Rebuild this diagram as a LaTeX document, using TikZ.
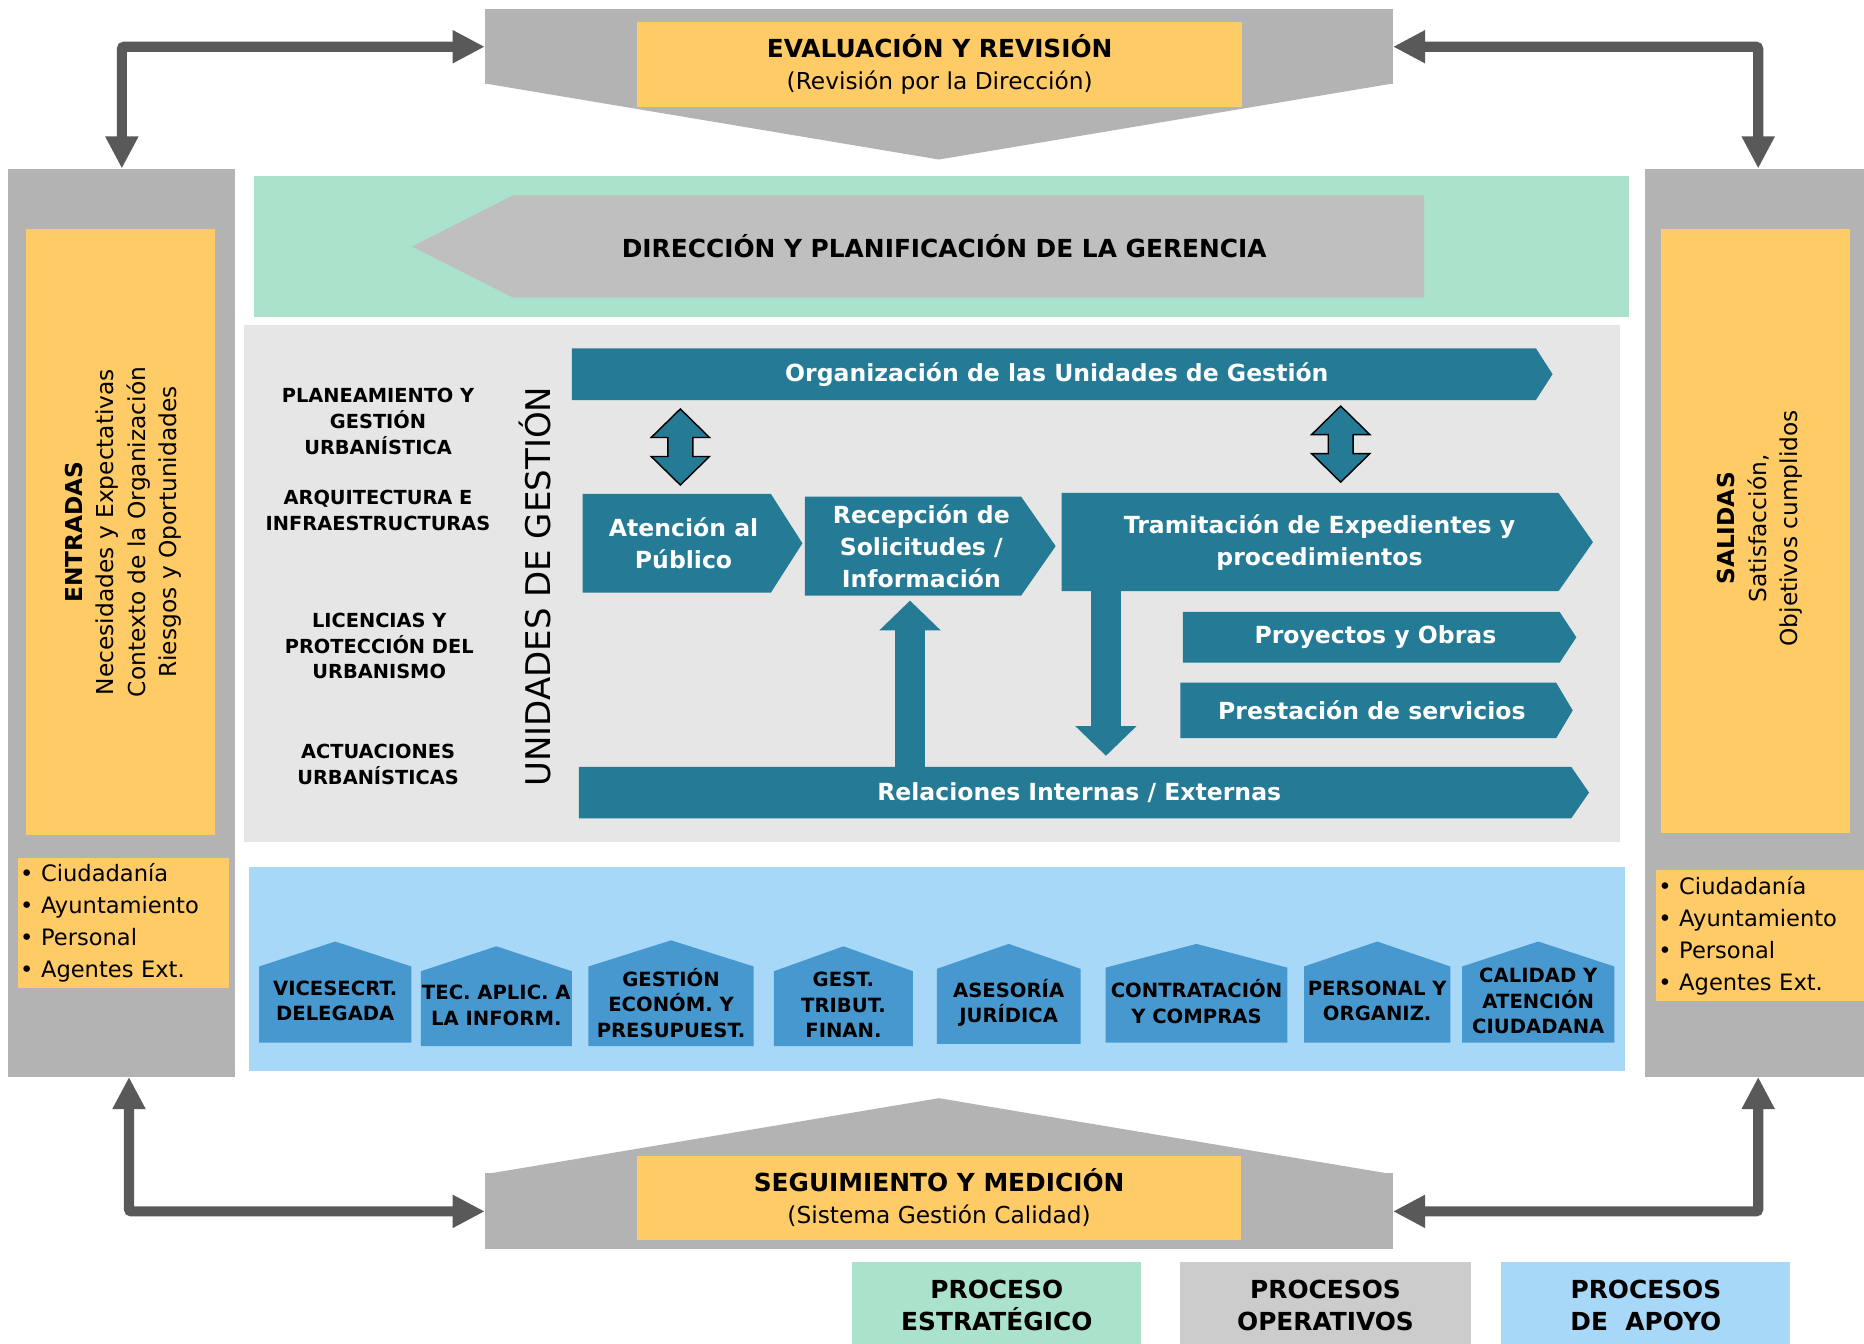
\documentclass[tikz,border=0pt]{standalone}
\usepackage{fontspec}
\setmainfont{DejaVu Sans}
\usetikzlibrary{arrows.meta}
\definecolor{greyd}{HTML}{B3B3B3}
\definecolor{greyl}{HTML}{E6E6E6}
\definecolor{greya}{HTML}{BFBFBF}
\definecolor{greyleg}{HTML}{CCCCCC}
\definecolor{arrowg}{HTML}{595959}
\definecolor{yell}{HTML}{FFCB66}
\definecolor{greenb}{HTML}{ABE2CB}
\definecolor{blueb}{HTML}{A8D8F8}
\definecolor{tealc}{HTML}{257B96}
\definecolor{housec}{HTML}{4898D0}
\newcommand\fTtl{\bfseries\fontsize{20.9}{27}\selectfont}
\newcommand\fArm{\bfseries\fontsize{19.8}{27}\selectfont}
\newcommand\fReg{\fontsize{19.6}{26.5}\selectfont}
\newcommand\fBul{\fontsize{19}{27}\selectfont}
\newcommand\fLbl{\bfseries\fontsize{16.3}{21.5}\selectfont}
\newcommand\fHouse{\bfseries\fontsize{16.5}{21.5}\selectfont}
\newcommand\fBig{\fontsize{28.6}{30}\selectfont}
\newcommand\lft[1]{\hspace*{-#1pt}}
\begin{document}
\begin{tikzpicture}[x=1pt,y=-1pt,
  ybox/.style={fill=yell,inner sep=0pt,align=center},
  gbox/.style={fill=greyd,inner sep=0pt},
  tealarrow/.style={inner sep=0pt,align=center,text=white,font=\fArm,
    path picture={\fill[tealc] (path picture bounding box.north west)
      -- ([xshift=-#1]path picture bounding box.north east)
      -- (path picture bounding box.east)
      -- ([xshift=-#1]path picture bounding box.south east)
      -- (path picture bounding box.south west) -- cycle;}},
  housetxt/.style={inner sep=0pt,align=center,font=\fHouse},
  unitlbl/.style={inner sep=0pt,align=center,font=\fLbl},
  looparrow/.style={draw=arrowg,line width=8.5pt,rounded corners=2pt,<->,>={Triangle[width=26pt,length=27pt]}},
  fatarrow/.style={draw=tealc,line width=25pt,->,>={Triangle[width=50pt,length=25pt]}},
  legend/.style={inner sep=0pt,align=center,font=\fTtl,minimum width=243pt,minimum height=73pt},
  updown/.pic={\draw[black,fill=tealc,line width=1.2pt,line join=miter]
    (0,-32) -- (24.5,-8) -- (10.5,-8) -- (10.5,8) -- (24.5,8) -- (0,32)
    -- (-24.5,8) -- (-10.5,8) -- (-10.5,-8) -- (-24.5,-8) -- cycle;}
]
\useasboundingbox (0,0) rectangle (1568,1130);

\fill[greenb] (213.5,148) rectangle (1370.6,267);
\fill[greyl] (205.3,273.4) rectangle (1362.7,708);
\fill[blueb] (209.5,729) rectangle (1366.8,901);

\node[gbox,minimum width=763.6pt,minimum height=63.4pt] (evalbox) at (789.8,39.3) {};
\fill[greyd] ([yshift=1pt]evalbox.south west) -- ([yshift=-63pt]evalbox.south) -- ([yshift=1pt]evalbox.south east) -- cycle;
\node[ybox,font=\fReg,minimum width=509pt,minimum height=71.5pt] (evaltxt) at (790.5,54.25)
  {{\fTtl EVALUACIÓN Y REVISIÓN}\\(Revisión por la Dirección)};

\node[gbox,minimum width=763.6pt,minimum height=64pt] (segbox) at (789.8,1019) {};
\fill[greyd] ([yshift=-1pt]segbox.north west) -- ([yshift=63pt]segbox.north) -- ([yshift=-1pt]segbox.north east) -- cycle;
\node[ybox,font=\fReg,minimum width=508pt,minimum height=71pt] (segtxt) at (790,1007.5)
  {{\fTtl SEGUIMIENTO Y MEDICIÓN}\\(Sistema Gestión Calidad)};

\node[gbox,minimum width=191pt,minimum height=763.7pt] (colL) at (102.5,523.85) {};
\node[gbox,minimum width=190pt,minimum height=763.7pt] (colR) at (1479,523.85) {};
\node[ybox,minimum width=159pt,minimum height=509pt] (entr) at (101.5,447.5) {};
\node[rotate=90,align=center,font=\fReg,inner sep=0pt] (entrtxt) at ([xshift=2pt]entr.center)
  {{\bfseries ENTRADAS}\\Necesidades y Expectativas\\Contexto de la Organización\\Riesgos y Oportunidades};
\node[ybox,minimum width=159pt,minimum height=508pt] (sal) at (1476.5,446.5) {};
\node[rotate=90,align=center,font=\fReg,inner sep=0pt] (saltxt) at ([xshift=4pt,yshift=2pt]sal.center)
  {{\bfseries SALIDAS}\\Satisfacción,\\Objetivos cumplidos};
\node[ybox,align=left,font=\fBul,text width=174pt,inner xsep=2pt,minimum height=109pt] (bulL) at (104,776.5)
  {• Ciudadanía\\• Ayuntamiento\\• Personal\\• Agentes Ext.};
\node[ybox,align=left,font=\fBul,text width=177pt,inner xsep=2pt,minimum height=110pt] (bulR) at (1483.5,787)
  {• Ciudadanía\\• Ayuntamiento\\• Personal\\• Agentes Ext.};

\draw[looparrow] (colL.north) |- (evalbox.west);
\draw[looparrow] (colR.north) |- (evalbox.east);
\draw[looparrow] ([xshift=6pt]colL.south) |- (segbox.west);
\draw[looparrow] (colR.south) |- (segbox.east);

\node[inner sep=0pt,font=\fTtl,minimum width=851.4pt,minimum height=86.1pt,
  path picture={\fill[greya] (path picture bounding box.west)
    -- ([xshift=85pt]path picture bounding box.north west)
    -- (path picture bounding box.north east)
    -- (path picture bounding box.south east)
    -- ([xshift=85pt]path picture bounding box.south west) -- cycle;}] (dirg) at (772.3,207.35)
  {\hspace*{44pt}DIRECCIÓN Y PLANIFICACIÓN DE LA GERENCIA};

\node[tealarrow=14pt,minimum width=825pt,minimum height=43.5pt] (orgn) at (893.5,314.75) {\lft{9}Organización de las Unidades de Gestión};
\node[tealarrow=26.5pt,minimum width=185pt,minimum height=83pt] (atenc) at (582.5,457) {\lft{15}Atención al\\\lft{15}Público};
\node[tealarrow=29pt,minimum width=211pt,minimum height=83.2pt] (recep) at (782.5,459.4) {\lft{15}Recepción de\\\lft{15}Solicitudes /\\\lft{15}Información};
\node[tealarrow=29pt,minimum width=447pt,minimum height=82.7pt] (tram) at (1116.5,456) {\lft{13}Tramitación de Expedientes y\\\lft{13}procedimientos};
\node[tealarrow=14pt,minimum width=331pt,minimum height=42.6pt] (proy) at (1160.5,536.1) {\lft{7}Proyectos y Obras};
\node[tealarrow=14pt,minimum width=330pt,minimum height=46.8pt] (prest) at (1158,597.6) {\lft{8}Prestación de servicios};
\node[tealarrow=15pt,minimum width=849.7pt,minimum height=43.4pt] (relac) at (911.85,666.7) {\lft{8}Relaciones Internas / Externas};

\path ([xshift=82.5pt]atenc.north west) -- ([xshift=82.5pt]atenc.north west |- orgn.south) coordinate[midway] (dbl1);
\path ([xshift=235pt]tram.north west) -- ([xshift=235pt]tram.north west |- orgn.south) coordinate[midway] (dbl2);
\pic at (dbl1) {updown};
\pic at ([yshift=2pt]dbl2) {updown};

\draw[fatarrow] ([xshift=-17pt]relac.north -| recep.south) -- ([xshift=-17pt,yshift=-4pt]recep.south);
\draw[fatarrow] ([xshift=37.5pt]tram.south west) -- ([xshift=37.5pt,yshift=9pt]tram.south west |- relac.north);

\node[unitlbl] (plan) at (318,354.5) {PLANEAMIENTO Y\\GESTIÓN\\URBANÍSTICA};
\node[unitlbl] (arq) at (318,429.5) {ARQUITECTURA E\\INFRAESTRUCTURAS};
\node[unitlbl] (lic) at (319,543.5) {LICENCIAS Y\\PROTECCIÓN DEL\\URBANISMO};
\node[unitlbl] (act) at (318,643) {ACTUACIONES\\URBANÍSTICAS};
\node[rotate=90,font=\fBig,inner sep=0pt] (unid) at (450,493.5) {UNIDADES DE GESTIÓN};

\foreach \nm/\xa/\xb/\pk/\ev/\bt/\txt in {
  vice/218/346/792/813/877/{VICESECRT.\\DELEGADA},
  tecap/354/481/796/817/880/{TEC. APLIC. A\\LA INFORM.},
  gecon/495/634/791/813/880/{GESTIÓN\\ECONÓM. Y\\PRESUPUEST.},
  gtrib/651/768/796/817/880/{GEST.\\TRIBUT.\\FINAN.},
  aseso/788/909/794/815/878/{ASESORÍA\\JURÍDICA},
  contr/930/1083/794/814/877/{CONTRATACIÓN\\Y COMPRAS},
  perso/1097/1220/792/813/877/{PERSONAL Y\\ORGANIZ.},
  calid/1230/1358/792/813/877/{CALIDAD Y\\ATENCIÓN\\CIUDADANA}}{
\fill[housec] (\xa,\bt) -- (\xa,\ev) -- ({(\xa+\xb)/2},\pk) -- (\xb,\ev) -- (\xb,\bt) -- cycle;
\node[housetxt] (\nm) at ({(\xa+\xb)/2},{(\ev+\bt)/2-3}) {\txt};
}

\node[legend,fill=greenb] (legE) at (838.5,1098.5) {PROCESO\\ESTRATÉGICO};
\node[legend,fill=greyleg,minimum width=244pt] (legO) at (1115,1098.5) {PROCESOS\\OPERATIVOS};
\node[legend,fill=blueb] (legA) at (1384.5,1098.5) {PROCESOS\\DE~~APOYO};
\end{tikzpicture}
\end{document}
